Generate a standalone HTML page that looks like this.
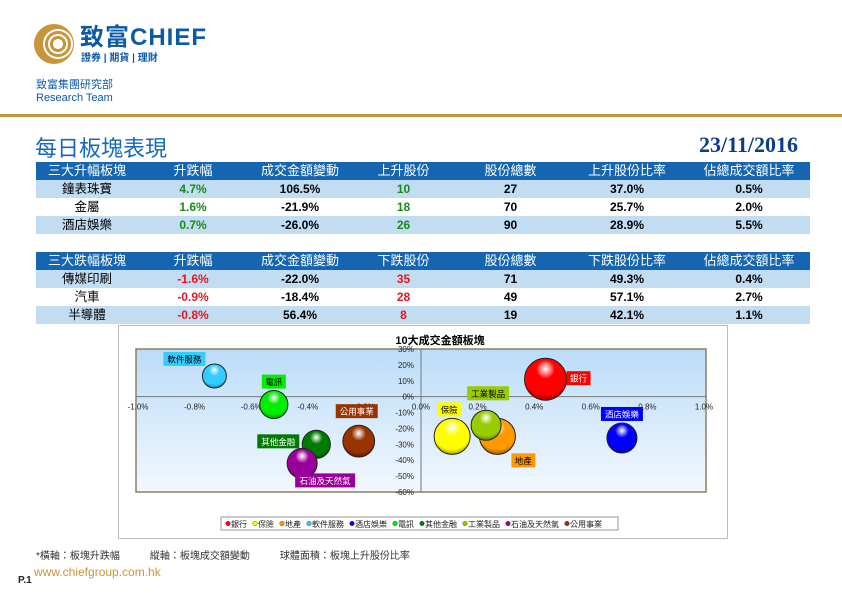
<!DOCTYPE html>
<html><head><meta charset="utf-8"><style>
*{margin:0;padding:0;box-sizing:border-box}
body{width:842px;height:595px;background:#fff;position:relative;overflow:hidden;font-family:"Liberation Sans","Noto Sans CJK TC",sans-serif}
.abs{position:absolute}
table{position:absolute;left:36px;border-collapse:collapse;width:774px;font-size:12px;table-layout:fixed}
td,th{height:18px;line-height:14px;text-align:center;padding:0;font-weight:bold;overflow:hidden}
td:first-child{font-weight:normal;font-size:12.5px}
th{background:#1565b0;color:#fff;font-weight:normal;font-size:13px}
tr.alt td{background:#c2dcf2}
.g{color:#1a8a1a}.r{color:#e8141e}
</style></head><body>
<div class="abs" style="left:34px;top:24px;width:40px;height:40px;border-radius:50%;background:radial-gradient(circle at 60% 50%,#fff 0 5px,#c8953a 5px 8px,#fff 8px 10px,#c8953a 10px 13px,#fff 13px 15px,#c8953a 15px 20px)"></div>
<div class="abs" style="left:80px;top:26px;font-size:24px;line-height:24px;font-weight:bold;color:#0d5aa7;letter-spacing:1px">致富CHIEF</div>
<div class="abs" style="left:81px;top:53px;font-size:10px;line-height:11px;color:#0d5aa7;font-weight:bold">證券 | 期貨 | 理財</div>
<div class="abs" style="left:36px;top:76px;font-size:11px;color:#0d5aa7">致富集團研究部</div>
<div class="abs" style="left:36px;top:92px;font-size:11px;color:#0d5aa7">Research Team</div>
<div class="abs" style="left:0;top:114px;width:842px;height:3px;background:#c8953a"></div>
<div class="abs" style="left:35px;top:131px;font-size:22px;color:#1569b8">每日板塊表現</div>
<div class="abs" style="right:44px;top:132px;font-size:22px;font-weight:bold;color:#0d3d8a;font-family:'Liberation Serif',serif">23/11/2016</div>

<table style="top:162px">
<colgroup><col style="width:102px"><col style="width:110px"><col style="width:104px"><col style="width:103px"><col style="width:111px"><col style="width:122px"><col style="width:122px"></colgroup>
<tr><th>三大升幅板塊</th><th>升跌幅</th><th>成交金額變動</th><th>上升股份</th><th>股份總數</th><th>上升股份比率</th><th>佔總成交額比率</th></tr>
<tr class="alt"><td>鐘表珠寶</td><td class="g">4.7%</td><td>106.5%</td><td class="g">10</td><td>27</td><td>37.0%</td><td>0.5%</td></tr>
<tr><td>金屬</td><td class="g">1.6%</td><td>-21.9%</td><td class="g">18</td><td>70</td><td>25.7%</td><td>2.0%</td></tr>
<tr class="alt"><td>酒店娛樂</td><td class="g">0.7%</td><td>-26.0%</td><td class="g">26</td><td>90</td><td>28.9%</td><td>5.5%</td></tr>
</table>
<table style="top:252px">
<colgroup><col style="width:102px"><col style="width:110px"><col style="width:104px"><col style="width:103px"><col style="width:111px"><col style="width:122px"><col style="width:122px"></colgroup>
<tr><th>三大跌幅板塊</th><th>升跌幅</th><th>成交金額變動</th><th>下跌股份</th><th>股份總數</th><th>下跌股份比率</th><th>佔總成交額比率</th></tr>
<tr class="alt"><td>傳媒印刷</td><td class="r">-1.6%</td><td>-22.0%</td><td class="r">35</td><td>71</td><td>49.3%</td><td>0.4%</td></tr>
<tr><td>汽車</td><td class="r">-0.9%</td><td>-18.4%</td><td class="r">28</td><td>49</td><td>57.1%</td><td>2.7%</td></tr>
<tr class="alt"><td>半導體</td><td class="r">-0.8%</td><td>56.4%</td><td class="r">8</td><td>19</td><td>42.1%</td><td>1.1%</td></tr>
</table>

<div class="abs" style="left:118px;top:325px;width:610px;height:214px;border:1px solid #bbb"></div>
<svg class="abs" id="chart" style="left:0;top:0" width="842" height="595" font-family="Liberation Sans, Noto Sans CJK TC, sans-serif"></svg>

<div class="abs" style="left:36px;top:547px;font-size:10px;color:#333">*橫軸：板塊升跌幅　　　縱軸：板塊成交額變動　　　球體面積：板塊上升股份比率</div>
<div class="abs" style="left:18px;top:575px;font-size:10px;font-weight:bold;color:#222">P.1</div>
<div class="abs" style="left:34px;top:565px;font-size:12px;color:#c8953a">www.chiefgroup.com.hk</div>

<script>
const sectors=["銀行","保險","地產","軟件服務","酒店娛樂","電訊","其他金融","工業製品","石油及天然氣","公用事業"];
const xChange=[0.44,0.11,0.27,-0.73,0.71,-0.52,-0.37,0.23,-0.42,-0.22];
const yTurnover=[11,-25,-25,13,-26,-5,-30,-18,-42,-28];
const riseRatio=[49,36,36,16,25,22,22,25,25,28];
const xTicks=[-1.0,-0.8,-0.6,-0.4,-0.2,0,0.2,0.4,0.6,0.8,1.0];
const yTicks=[30,20,10,0,-10,-20,-30,-40,-50,-60];
const colors=["#ff0000","#ffff00","#ff9900","#33ccff","#0000ff","#00ee00","#007a00","#99cc00","#990099","#993300"];
const darks=["#8a0000","#8a8a00","#8a4a00","#0a6a8a","#00006a","#007a00","#003a00","#4a6a00","#4a004a","#4a1800"];
const labelText=["#fff","#000","#000","#000","#fff","#000","#fff","#000","#fff","#fff"];
const labelOff=[[33,-1],[-3,-27],[26,24],[-30,-17],[0,-24],[0,-23],[-38,-3],[2,-32],[23,17],[-2,-30]];
const NS="http://www.w3.org/2000/svg";
const svg=document.getElementById('chart');
const X0=138,X1=704,Y0=349,Y1=492;
const sx=v=>X0+(v+1)/2*(X1-X0);
const sy=v=>Y0+(30-v)/90*(Y1-Y0);
function mk(t,a,p){const e=document.createElementNS(NS,t);for(const k in a)e.setAttribute(k,a[k]);(p||svg).appendChild(e);return e;}
const defs=mk('defs',{});
const bg=mk('linearGradient',{id:'bg',x1:0,y1:0,x2:0,y2:1},defs);
mk('stop',{offset:0,'stop-color':'#bcdcf8'},bg);mk('stop',{offset:1,'stop-color':'#f2f8ff'},bg);
const plot=mk('rect',{x:136,y:Y0,width:570,height:Y1-Y0,fill:'url(#bg)',stroke:'#8a8060','stroke-width':1.5});


const xa=mk('line',{x1:136,x2:706,y1:sy(0),y2:sy(0),stroke:'#777'});


const ya=mk('line',{x1:sx(0),x2:sx(0),y1:Y0,y2:Y1,stroke:'#777'});


xTicks.forEach(v=>{const t=mk('text',{x:sx(v),y:sy(0)+13,'font-size':8,'text-anchor':'middle',fill:'#222'});t.textContent=v.toFixed(1)+'%';

});
yTicks.forEach(v=>{const t=mk('text',{x:sx(0)-7,y:sy(v)+3,'font-size':8,'text-anchor':'end',fill:'#222'});t.textContent=v+'%';

});
const title=mk('text',{x:440,y:344,'font-size':11,'font-weight':'bold','text-anchor':'middle',fill:'#000'});title.textContent='10大成交金額板塊';


sectors.forEach((s,i)=>{
 const g=mk('radialGradient',{id:'g'+i,cx:'50%',cy:'30%',r:'75%',fx:'50%',fy:'25%'},defs);
 mk('stop',{offset:0,'stop-color':'#fff','stop-opacity':0.9},g);
 mk('stop',{offset:0.3,'stop-color':colors[i]},g);
 mk('stop',{offset:0.75,'stop-color':colors[i]},g);
 mk('stop',{offset:1,'stop-color':darks[i]},g);
 const cx=sx(xChange[i]),cy=sy(yTurnover[i]),r=Math.sqrt(riseRatio[i])*3;
 const c=mk('circle',{cx:cx,cy:cy,r:r,fill:'url(#g'+i+')',stroke:'#222','stroke-width':1});
 
 
 const lx=cx+labelOff[i][0],ly=cy+labelOff[i][1];
 const w=s.length*9+6;
 const lr=mk('rect',{x:lx-w/2,y:ly-7,width:w,height:14,fill:colors[i]});
 
 
 const lt=mk('text',{x:lx,y:ly+3.5,'font-size':8.5,'text-anchor':'middle',fill:labelText[i]});lt.textContent=s;
 
 
});
const lg=mk('rect',{x:221,y:517,width:397,height:13,fill:'#fff',stroke:'#999'});


let lx=228;
sectors.forEach((s,i)=>{
 const d=mk('circle',{cx:lx,cy:523.5,r:2.3,fill:colors[i],stroke:'#333','stroke-width':0.4});
 
 
 const t=mk('text',{x:lx+3,y:527,'font-size':8,fill:'#222'});t.textContent=s;
 
 
 lx+=s.length*8+11;
});
</script>
</body></html>
